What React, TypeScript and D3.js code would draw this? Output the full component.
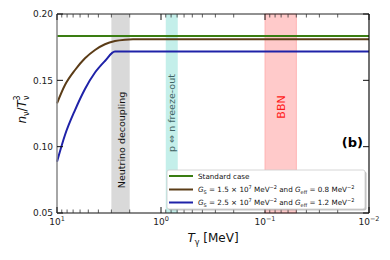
import * as d3 from "d3";

// photon temperature (MeV) and n_nu / T_nu^3
const standardT = [10, 0.01];
const standardV = [0.1834, 0.1834];
const caseAT = [10, 8.38, 6.71, 5.38, 4.31, 3.46, 2.77, 2.22, 1.86, 0.01];
const caseAV = [0.1327, 0.1465, 0.1578, 0.1666, 0.1729, 0.1772, 0.1796, 0.1806, 0.1809, 0.1809];
const caseBT = [10, 8.38, 6.71, 5.38, 4.31, 3.46, 2.77, 0.01];
const caseBV = [0.0886, 0.1088, 0.1276, 0.1435, 0.1559, 0.1646, 0.1717, 0.1717];

// shaded temperature windows
const decouplingBand = [3.0, 2.0];
const freezeOutBand = [0.9, 0.69];
const bbnBand = [0.1, 0.05];

const yTicks = [0.05, 0.1, 0.15, 0.2];
const xDecades = [1, 0, -1, -2];

const W = 390;
const H = 260;
const margin = { top: 14, right: 21, bottom: 47, left: 57 };
const font = "DejaVu Sans, sans-serif";

const x = d3.scaleLog().domain([10, 0.01]).range([margin.left, W - margin.right]);
const y = d3.scaleLinear().domain([0.05, 0.2]).range([H - margin.bottom, margin.top]);

const line = d3
  .line<[number, number]>()
  .x((d) => x(d[0]))
  .y((d) => y(d[1]))
  .curve(d3.curveMonotoneX);

const zip = (a: number[], b: number[]) => a.map((v, i) => [v, b[i]] as [number, number]);

const series = [
  { pts: zip(standardT, standardV), color: "#3a7d12" },
  { pts: zip(caseAT, caseAV), color: "#5b3c17" },
  { pts: zip(caseBT, caseBV), color: "#1f22a8" },
];

// minor ticks of the log axis
const minorTicks: number[] = [];
for (const e of [-2, -1, 0]) for (let m = 2; m <= 9; m++) minorTicks.push(m * Math.pow(10, e));

export default function App() {
  const x0 = margin.left;
  const x1 = W - margin.right;
  const y0 = H - margin.bottom;
  const y1 = margin.top;
  const band = (b: number[], fill: string, stroke: string) => (
    <rect x={x(b[0])} y={y1} width={x(b[1]) - x(b[0])} height={y0 - y1} fill={fill} stroke={stroke} strokeWidth={0.8} />
  );
  const legendX = 167;
  const legendY = 170;
  const rows = [176, 189.5, 202.5];
  return (
    <svg width={W} height={H} style={{ position: "absolute", left: 0, top: 0 }} fontFamily={font}>
      <rect width={W} height={H} fill="#fff" />
      {band(decouplingBand, "#d9d9d9", "none")}
      {band(freezeOutBand, "#c4efea", "none")}
      {band(bbnBand, "#ffcaca", "#ffaaaa")}

      <text transform={`translate(${x(Math.sqrt(6)) + 4},140) rotate(-90)`} textAnchor="middle" fontSize={9.5} fill="#111">
        Neutrino decoupling
      </text>
      <text transform={`translate(${x(0.79) + 3.5},113) rotate(-90)`} textAnchor="middle" fontSize={9.5} fill="#3f6464">
        p ⇔ n freeze-out
      </text>
      <text transform={`translate(${x(0.0707) + 4},107) rotate(-90)`} textAnchor="middle" fontSize={11} fill="#ff1a1a">
        BBN
      </text>

      {series.map((s, i) => (
        <path key={i} d={line(s.pts) ?? ""} fill="none" stroke={s.color} strokeWidth={2} />
      ))}

      {/* frame */}
      <line x1={x0} x2={x1} y1={y1} y2={y1} stroke="#222" strokeWidth={1} />
      <line x1={x0} x2={x1} y1={y0} y2={y0} stroke="#111" strokeWidth={1.2} />
      <line x1={x1} x2={x1} y1={y1} y2={y0} stroke="#111" strokeWidth={1.2} />
      <line x1={x0} x2={x0} y1={y1} y2={y0} stroke="#888" strokeWidth={1.5} />

      {/* x ticks */}
      {xDecades.map((e) => (
        <g key={e}>
          <line x1={x(10 ** e)} x2={x(10 ** e)} y1={y0} y2={y0 - 6} stroke="#111" strokeWidth={1} />
          <line x1={x(10 ** e)} x2={x(10 ** e)} y1={y1} y2={y1 + 6} stroke="#111" strokeWidth={1} />
          <text x={x(10 ** e)} y={y0 + 12} textAnchor="middle" fontSize={9} fill="#222">
            10<tspan dy={-4} fontSize={6.5}>{e < 0 ? `−${-e}` : e}</tspan>
          </text>
        </g>
      ))}
      {minorTicks.map((t) => (
        <g key={t}>
          <line x1={x(t)} x2={x(t)} y1={y0} y2={y0 - 3.5} stroke="#333" strokeWidth={0.8} />
          <line x1={x(t)} x2={x(t)} y1={y1} y2={y1 + 3.5} stroke="#333" strokeWidth={0.8} />
        </g>
      ))}

      {/* y ticks */}
      {yTicks.map((t) => (
        <g key={t}>
          <line x1={x0} x2={x0 + 6} y1={y(t)} y2={y(t)} stroke="#111" strokeWidth={1} />
          <line x1={x1} x2={x1 - 6} y1={y(t)} y2={y(t)} stroke="#111" strokeWidth={1} />
          <text x={x0 - 4} y={y(t) + 3.2} textAnchor="end" fontSize={9} fill="#222">
            {t.toFixed(2)}
          </text>
        </g>
      ))}

      {/* axis titles */}
      <text transform={`translate(26,${(y0 + y1) / 2 - 4}) rotate(-90)`} textAnchor="middle" fontSize={12} fill="#111">
        <tspan fontStyle="italic">n</tspan>
        <tspan fontSize={8} dy={3}>ν</tspan>
        <tspan dy={-3}>/</tspan>
        <tspan fontStyle="italic">T</tspan>
        <tspan fontSize={8} dy={3}>ν</tspan>
        <tspan fontSize={8} dx={-5} dy={-9}>3</tspan>
      </text>
      <text x={(x0 + x1) / 2} y={242} textAnchor="middle" fontSize={12} fill="#111">
        <tspan fontStyle="italic">T</tspan>
        <tspan fontSize={8} dy={3}>γ</tspan>
        <tspan dy={-3}> [MeV]</tspan>
      </text>

      <text x={x1 - 6} y={147} textAnchor="end" fontSize={13} fontWeight="bold" fill="#000">
        (b)
      </text>

      {/* legend */}
      <rect x={legendX + 1.5} y={legendY + 1.5} width={198} height={39} rx={2} fill="#999" opacity={0.6} />
      <rect x={legendX} y={legendY} width={198} height={39} rx={2} fill="#fff" stroke="#ccc" strokeWidth={0.8} />
      {series.map((s, i) => (
        <line key={i} x1={legendX + 2} x2={legendX + 26} y1={rows[i]} y2={rows[i]} stroke={s.color} strokeWidth={2} />
      ))}
      <text x={legendX + 31} y={rows[0] + 2.6} fontSize={7.2} fill="#111">
        Standard case
      </text>
      {[
        ["1.5", "0.8"],
        ["2.5", "1.2"],
      ].map(([gs, ge], i) => (
        <text key={i} x={legendX + 31} y={rows[i + 1] + 2.6} fontSize={7.2} fill="#111">
          <tspan fontStyle="italic">G</tspan>
          <tspan fontSize={5} dy={1.5}>S</tspan>
          <tspan dy={-1.5}>{` = ${gs} × 10`}</tspan>
          <tspan fontSize={5} dy={-3}>7</tspan>
          <tspan dy={3}> MeV</tspan>
          <tspan fontSize={5} dy={-3}>−2</tspan>
          <tspan dy={3}> and </tspan>
          <tspan fontStyle="italic">G</tspan>
          <tspan fontSize={5} dy={1.5}>eff</tspan>
          <tspan dy={-1.5}>{` = ${ge} MeV`}</tspan>
          <tspan fontSize={5} dy={-3}>−2</tspan>
        </text>
      ))}
    </svg>
  );
}
